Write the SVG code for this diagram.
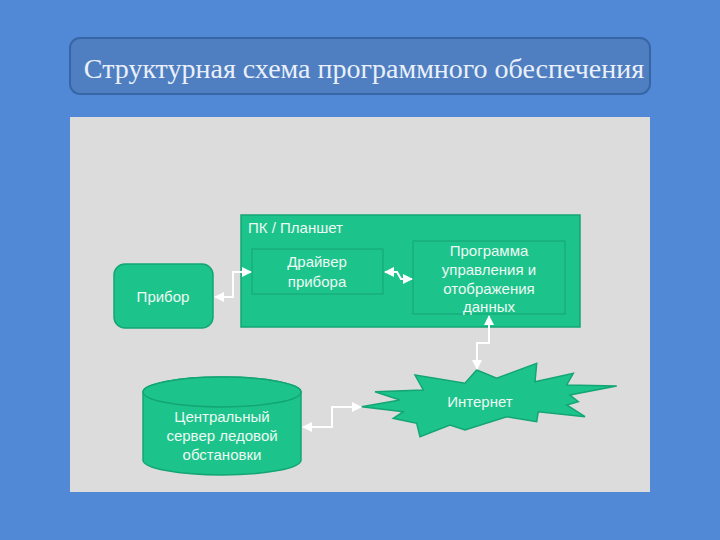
<svg xmlns="http://www.w3.org/2000/svg" width="720" height="540" viewBox="0 0 720 540">
<defs>
<style>
.node{fill:#1cc48b;stroke:#13a574;stroke-width:1.5}
.inner{fill:#1cc48b;stroke:#17a877;stroke-width:1.2}
.t{font-family:"Liberation Sans",Arial,sans-serif;font-size:15px;fill:#eef8f4;text-anchor:middle}
.c{fill:none;stroke:#ffffff;stroke-width:2}
</style>
<marker id="ah" viewBox="0 0 10 10" refX="9" refY="5" markerWidth="5" markerHeight="5" orient="auto-start-reverse">
<path d="M0,0 L10,5 L0,10 z" fill="#ffffff"/>
</marker>
</defs>
<rect x="0" y="0" width="720" height="540" fill="#5189d6"/>
<g id="title">
<rect x="70" y="38" width="580" height="56" rx="10" fill="#4f7fc1" stroke="#3766a6" stroke-width="2"/>
<text x="364" y="78" font-family="'Liberation Serif','Times New Roman',serif" font-size="28" fill="#eaf0fa" text-anchor="middle">Структурная схема программного обеспечения</text>
</g>
<rect x="70" y="117" width="580" height="375" fill="#dcdcdc"/>
<g id="pc">
<rect x="241" y="215" width="339" height="112" class="node"/>
<text x="248" y="233" class="t" style="text-anchor:start">ПК / Планшет</text>
</g>
<g id="driver">
<rect x="252" y="249" width="131" height="45" class="inner"/>
<text x="317" y="267" class="t">Драйвер</text>
<text x="317" y="287" class="t">прибора</text>
</g>
<g id="program">
<rect x="413" y="241" width="152" height="73" class="inner"/>
<text x="489" y="256" class="t">Программа</text>
<text x="489" y="275" class="t">управления и</text>
<text x="489" y="294" class="t">отображения</text>
<text x="489" y="312" class="t">данных</text>
</g>
<g id="pribor">
<rect x="114" y="264" width="99" height="64" rx="11" class="node"/>
<text x="163" y="302" class="t">Прибор</text>
</g>
<g id="server">
<path d="M143,392 L143,460 A79,15 0 0 0 301,460 L301,392 A79,15 0 0 0 143,392 Z" class="node"/>
<ellipse cx="222" cy="392" rx="79" ry="15" class="node"/>
<text x="222" y="422" class="t">Центральный</text>
<text x="222" y="441" class="t">сервер ледовой</text>
<text x="222" y="460" class="t">обстановки</text>
</g>
<g id="internet">
<polygon points="361.7,406.7 400,400 375,391.7 423.3,390 415,375 465,383.3 476.7,370 496.7,378.3 536.7,363.3 535,381.7 573.3,373.3 566.7,385 616.7,386 570,395 578.3,401.7 566.7,405 585,416.7 538.3,411.7 536.7,421.7 506.7,416.7 465,430 450,425 420,436.7 416.7,423.3 393.3,418.3 403.3,411.7" class="node"/>
<text x="480" y="407" class="t">Интернет</text>
</g>
<g id="connectors">
<polyline points="215,297 233,297 233,272 251,272" class="c" marker-start="url(#ah)" marker-end="url(#ah)"/>
<polyline points="385,272 397,272 401,279 412,279" class="c" marker-start="url(#ah)" marker-end="url(#ah)"/>
<polyline points="489,316 489,343 477,343 477,369" class="c" marker-start="url(#ah)" marker-end="url(#ah)"/>
<polyline points="303,427 332,427 332,407 361,407" class="c" marker-start="url(#ah)" marker-end="url(#ah)"/>
</g>
</svg>
